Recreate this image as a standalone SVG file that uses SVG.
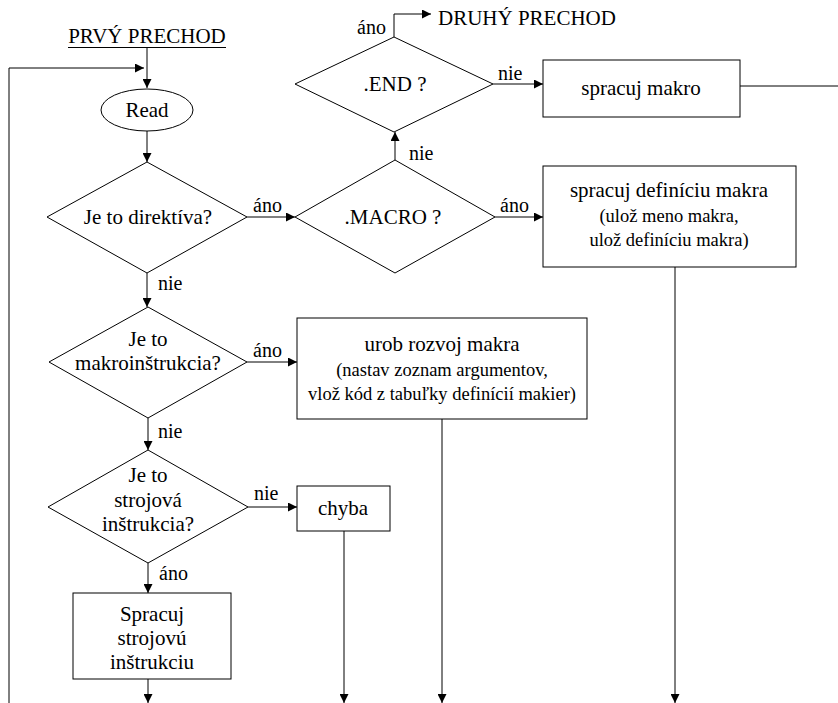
<svg xmlns="http://www.w3.org/2000/svg" width="838" height="703" viewBox="0 0 838 703" font-family="Liberation Serif, Times New Roman, serif">
  <defs>
    <marker id="arr" viewBox="0 0 10 10" refX="10" refY="5" markerWidth="11" markerHeight="9" markerUnits="userSpaceOnUse" orient="auto">
      <path d="M0,0 L10,5 L0,10 z" fill="#000"/>
    </marker>
    <style>
      text { font-family: 'Liberation Serif', 'Times New Roman', serif; fill: #000; }
      .t { font-size: 21px; text-anchor: middle; }
      .s { font-size: 18.5px; text-anchor: middle; }
      .lbl { font-size: 20px; }
      .shape { fill: #fff; stroke: #000; stroke-width: 1; }
      .conn path { fill: none; stroke: #000; stroke-width: 1; }
      .arrow { marker-end: url(#arr); }
    </style>
  </defs>
  <rect width="838" height="703" fill="#fff"/>

  <!-- connectors -->
  <g id="connectors" class="conn">
    <path class="arrow" d="M147,47 V88"/>
    <path class="arrow" d="M9,703 V68 H144"/>
    <path class="arrow" d="M147,131 V162"/>
    <path class="arrow" d="M247,217 H295"/>
    <path class="arrow" d="M495,217 H543"/>
    <path class="arrow" d="M395,160 V132"/>
    <path class="arrow" d="M394,37 V14 H431"/>
    <path class="arrow" d="M493,84 H543"/>
    <path d="M740,86 H838"/>
    <path class="arrow" d="M147,273 V307"/>
    <path class="arrow" d="M247,362 H297"/>
    <path class="arrow" d="M148,418 V450"/>
    <path class="arrow" d="M248,507 H297"/>
    <path class="arrow" d="M148,563 V593"/>
    <path class="arrow" d="M148,679 V703"/>
    <path class="arrow" d="M344,531 V703"/>
    <path class="arrow" d="M442,419 V703"/>
    <path class="arrow" d="M675,267 V703"/>
  </g>

  <!-- connector labels -->
  <g id="labels" class="lbl">
    <text x="253" y="212">áno</text>
    <text x="158" y="290">nie</text>
    <text x="500" y="212">áno</text>
    <text x="409" y="160">nie</text>
    <text x="357" y="34">áno</text>
    <text x="498" y="80">nie</text>
    <text x="253" y="357">áno</text>
    <text x="158" y="438">nie</text>
    <text x="254" y="500">nie</text>
    <text x="159" y="580">áno</text>
  </g>

  <g id="start">
    <text class="t" x="147" y="43">PRVÝ PRECHOD</text>
    <line x1="68" y1="47.5" x2="226" y2="47.5" stroke="#000" stroke-width="1"/>
  </g>

  <g id="second-pass">
    <text x="438" y="25" style="font-size:21px">DRUHÝ PRECHOD</text>
  </g>

  <g id="read">
    <ellipse class="shape" cx="147" cy="110" rx="46" ry="21"/>
    <text class="t" x="147" y="117">Read</text>
  </g>

  <g id="is-directive">
    <polygon class="shape" points="147,162 247,217 147,273 47,217"/>
    <text class="t" x="148" y="224">Je to direktíva?</text>
  </g>

  <g id="is-macro">
    <polygon class="shape" points="395,160 495,217 395,273 295,217"/>
    <text class="t" x="393" y="224">.MACRO ?</text>
  </g>

  <g id="is-end">
    <polygon class="shape" points="394,37 493,84 394,132 295,84"/>
    <text class="t" x="395" y="91">.END ?</text>
  </g>

  <g id="process-macro">
    <rect class="shape" x="543" y="60" width="197" height="57"/>
    <text class="t" x="641" y="95">spracuj makro</text>
  </g>

  <g id="macro-definition">
    <rect class="shape" x="543" y="166" width="253" height="101"/>
    <text class="t" x="669" y="197">spracuj definíciu makra</text>
    <text class="s" x="669" y="222">(ulož meno makra,</text>
    <text class="s" x="669" y="246">ulož definíciu makra)</text>
  </g>

  <g id="is-macro-instruction">
    <polygon class="shape" points="148,307 247,362 148,418 49,362"/>
    <text class="t" x="148" y="346">Je to</text>
    <text class="t" x="148" y="370">makroinštrukcia?</text>
  </g>

  <g id="macro-expansion">
    <rect class="shape" x="297" y="318" width="290" height="101"/>
    <text class="t" x="442" y="351">urob rozvoj makra</text>
    <text class="s" x="442" y="376">(nastav zoznam argumentov,</text>
    <text class="s" x="442" y="400">vlož kód z tabuľky definícií makier)</text>
  </g>

  <g id="is-machine-instruction">
    <polygon class="shape" points="148,450 248,507 148,563 48,507"/>
    <text class="t" x="148" y="482">Je to</text>
    <text class="t" x="148" y="507">strojová</text>
    <text class="t" x="148" y="531">inštrukcia?</text>
  </g>

  <g id="error">
    <rect class="shape" x="297" y="486" width="93" height="45"/>
    <text class="t" x="343" y="515">chyba</text>
  </g>

  <g id="machine-instruction">
    <rect class="shape" x="73" y="593" width="158" height="86"/>
    <text class="t" x="152" y="621">Spracuj</text>
    <text class="t" x="152" y="645">strojovú</text>
    <text class="t" x="152" y="669">inštrukciu</text>
  </g>
</svg>
